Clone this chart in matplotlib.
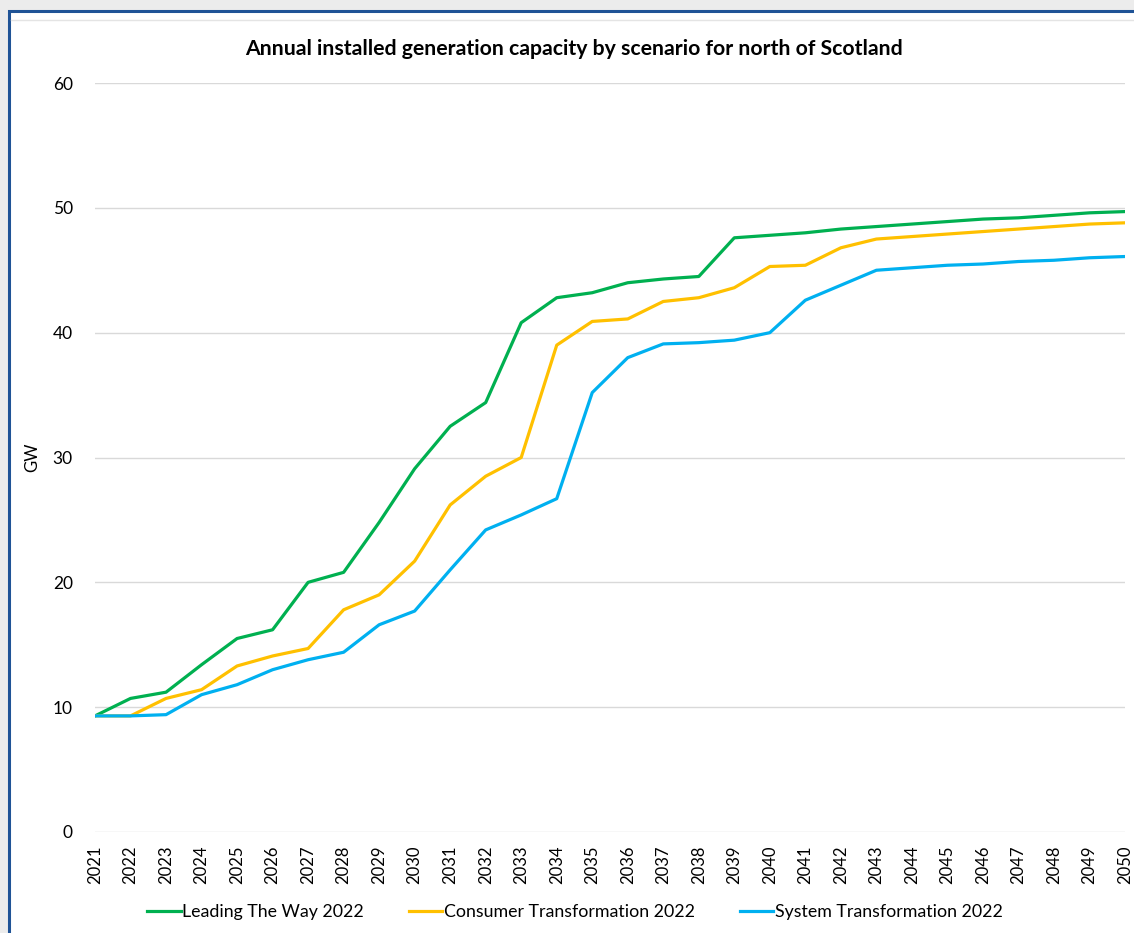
import matplotlib.pyplot as plt
from matplotlib.patches import Rectangle
from matplotlib.lines import Line2D

plt.rcParams['font.family'] = ['Lato', 'DejaVu Sans']

years = list(range(2021, 2051))

leading_the_way = [9.3, 10.7, 11.2, 13.4, 15.5, 16.2, 20.0, 20.8, 24.8, 29.1,
                   32.5, 34.4, 40.8, 42.8, 43.2, 44.0, 44.3, 44.5, 47.6, 47.8,
                   48.0, 48.3, 48.5, 48.7, 48.9, 49.1, 49.2, 49.4, 49.6, 49.7]
consumer_transformation = [9.3, 9.3, 10.7, 11.4, 13.3, 14.1, 14.7, 17.8, 19.0, 21.7,
                           26.2, 28.5, 30.0, 39.0, 40.9, 41.1, 42.5, 42.8, 43.6, 45.3,
                           45.4, 46.8, 47.5, 47.7, 47.9, 48.1, 48.3, 48.5, 48.7, 48.8]
system_transformation = [9.3, 9.3, 9.4, 11.0, 11.8, 13.0, 13.8, 14.4, 16.6, 17.7,
                         21.0, 24.2, 25.4, 26.7, 35.2, 38.0, 39.1, 39.2, 39.4, 40.0,
                         42.6, 43.8, 45.0, 45.2, 45.4, 45.5, 45.7, 45.8, 46.0, 46.1]

series_names = ['Leading The Way 2022', 'Consumer Transformation 2022',
                'System Transformation 2022']
colors = ['#00B050', '#FFC000', '#00B0F0']

fig = plt.figure(figsize=(11.34, 9.33), dpi=100, facecolor='#ececec')

# white chart area with blue frame (left and top edges visible)
frame = Rectangle((9 / 1134, -0.05), 1.2, 1 - 11 / 933 + 0.05,
                  transform=fig.transFigure, facecolor='white',
                  edgecolor='#1F5396', linewidth=2.2, zorder=-5)
fig.add_artist(frame)
fig.add_artist(Line2D([11 / 1134, 1], [1 - 20 / 933, 1 - 20 / 933],
                      transform=fig.transFigure, color='#e4e4e4', linewidth=1, zorder=-4))

ax = fig.add_axes([95 / 1134, 1 - 832 / 933, (1125 - 95) / 1134, (832 - 83) / 933])
ax.set_facecolor('none')

for vals, name, c in zip([leading_the_way, consumer_transformation, system_transformation],
                         series_names, colors):
    ax.plot(years, vals, color=c, linewidth=2.3, label=name)

ax.set_xlim(2021, 2050)
ax.set_ylim(0, 60)
ax.set_yticks(range(0, 61, 10))
ax.set_xticks(years)
ax.set_xticklabels([str(y) for y in years], rotation=90, fontsize=12)
ax.tick_params(axis='y', labelsize=12.5, length=0, pad=16)
ax.tick_params(axis='x', length=0, pad=10)
ax.grid(axis='y', color='#d9d9d9', linewidth=1)
ax.set_axisbelow(True)
for s in ax.spines.values():
    s.set_visible(False)

ax.set_ylabel('GW', fontsize=12)
ax.yaxis.set_label_coords((40 - 95) / 1030, 0.5)
ax.set_title('Annual installed generation capacity by scenario for north of Scotland',
             fontsize=15.3, fontweight='bold', pad=20, x=(574 - 95) / 1030)

fig.legend(loc='center', bbox_to_anchor=(575 / 1134, 1 - 912 / 933), ncol=3, frameon=False,
           fontsize=12.8, handlelength=1.9, handletextpad=0.1, columnspacing=2.5)

fig.savefig('out.png', dpi=100, facecolor=fig.get_facecolor())
